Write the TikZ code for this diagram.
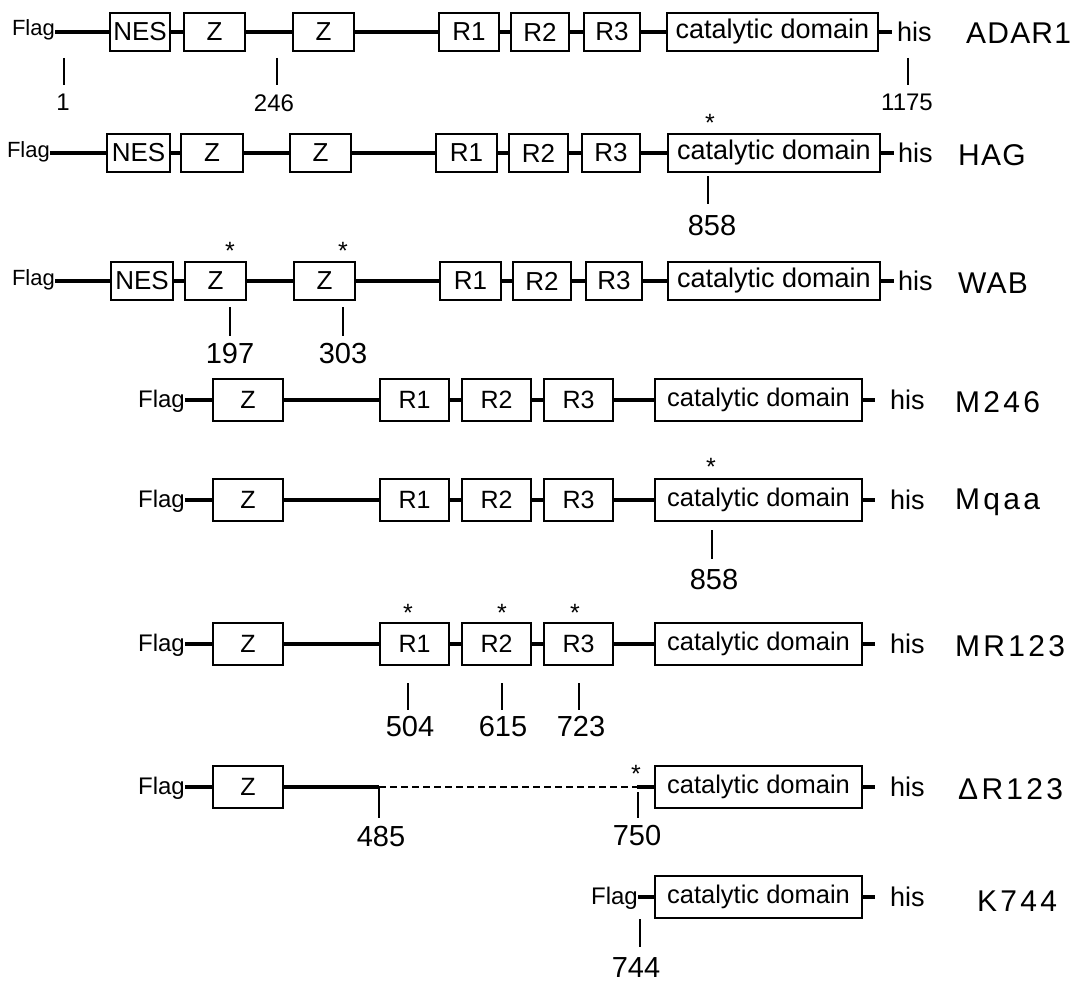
\documentclass[tikz,border=0pt]{standalone}
\usepackage{fontspec}
\setmainfont{Liberation Sans}
\newfontfamily\lblfamilyA[LetterSpace=4]{Liberation Sans}
\newfontfamily\lblfamilyB[LetterSpace=11]{Liberation Sans}
\newcommand\mkdom[6]{\node[#6, minimum width={(#3-#2)*1pt}] (#1) at ({(#2+#3)/2},#4) {#5};}
\tikzset{
 bb/.style={line width=3.1pt},
 tk/.style={line width=1.5pt},
 dsh/.style={line width=1.5pt, dash pattern=on 7pt off 4pt},
 boxA/.style={draw, line width=1.7pt, minimum height=38pt, inner sep=0pt, font=\fontsize{26}{26}\selectfont},
 catA/.style={boxA, font=\fontsize{27}{27}\selectfont},
 boxB/.style={draw, line width=1.7pt, minimum height=42pt, inner sep=0pt, font=\fontsize{25}{25}\selectfont},
 catB/.style={boxB, font=\fontsize{25.5}{25.5}\selectfont},
 flagA/.style={anchor=base east, inner sep=0pt, font=\fontsize{22}{22}\selectfont},
 flagB/.style={anchor=base east, inner sep=0pt, font=\fontsize{24}{24}\selectfont},
 hislbl/.style={anchor=west, inner sep=0pt, font=\fontsize{27}{27}\selectfont},
 rowlblA/.style={anchor=west, inner sep=0pt, font=\lblfamilyA\fontsize{30}{30}\selectfont},
 rowlblB/.style={anchor=west, inner sep=0pt, font=\lblfamilyB\fontsize{30}{30}\selectfont},
 numA/.style={inner sep=0pt, font=\fontsize{24}{24}\selectfont},
 numB/.style={inner sep=0pt, font=\fontsize{29}{29}\selectfont},
 star/.style={anchor=base, inner sep=0pt, font=\fontsize{25}{25}\selectfont},
}
\begin{document}
\begin{tikzpicture}[x=1pt,y=-1pt]
\useasboundingbox (0,0) rectangle (1091,982);
\fill[white] (0,0) rectangle (1091,982);

% ---------- Row 1: ADAR1 ----------
\node[flagA] (f1) at (55,36) {Flag};
\mkdom{n1}{110}{170}{32}{NES}{boxA}
\mkdom{z1a}{184}{245}{32}{Z}{boxA}
\mkdom{z1b}{293}{354}{32}{Z}{boxA}
\mkdom{r1a}{439}{499}{32}{R1}{boxA}
\mkdom{r1b}{511}{569}{32}{R2}{boxA}
\mkdom{r1c}{584}{640}{32}{R3}{boxA}
\mkdom{c1}{667}{878}{32}{catalytic domain}{catA}
\coordinate (s1) at (892,32);
\node[hislbl] (h1) at (897,32) {his};
\node[rowlblA] (L1) at (966,33) {ADAR1};
\draw[bb] (f1.east |- n1.west) -- (n1.west);
\draw[bb] (n1.east) -- (z1a.west);
\draw[bb] (z1a.east) -- (z1b.west);
\draw[bb] (z1b.east) -- (r1a.west);
\draw[bb] (r1a.east) -- (r1b.west);
\draw[bb] (r1b.east) -- (r1c.west);
\draw[bb] (r1c.east) -- (c1.west);
\draw[bb] (c1.east) -- (s1);
\coordinate (t1a) at (64,58); \node[numA] (p1a) at (63,102) {1};
\coordinate (t1b) at (277,58); \node[numA] (p1b) at (274,103) {246};
\coordinate (t1c) at (908,58); \node[numA] (p1c) at (907,102) {1175};
\draw[tk] (t1a) -- (t1a |- 0,85);
\draw[tk] (t1b) -- (t1b |- 0,85);
\draw[tk] (t1c) -- (t1c |- 0,85);

% ---------- Row 2: HAG ----------
\node[flagA] (f2) at (50,157) {Flag};
\mkdom{n2}{107}{170}{153}{NES}{boxA}
\mkdom{z2a}{181}{243}{153}{Z}{boxA}
\mkdom{z2b}{290}{351}{153}{Z}{boxA}
\mkdom{r2a}{436}{497}{153}{R1}{boxA}
\mkdom{r2b}{509}{568}{153}{R2}{boxA}
\mkdom{r2c}{582}{640}{153}{R3}{boxA}
\mkdom{c2}{668}{880}{153}{catalytic domain}{catA}
\coordinate (s2) at (894,153);
\node[hislbl] (h2) at (898,153) {his};
\node[rowlblA] (L2) at (958,155) {HAG};
\draw[bb] (f2.east |- n2.west) -- (n2.west);
\draw[bb] (n2.east) -- (z2a.west);
\draw[bb] (z2a.east) -- (z2b.west);
\draw[bb] (z2b.east) -- (r2a.west);
\draw[bb] (r2a.east) -- (r2b.west);
\draw[bb] (r2b.east) -- (r2c.west);
\draw[bb] (r2c.east) -- (c2.west);
\draw[bb] (c2.east) -- (s2);
\node[star] (a2) at (710,131) {*};
\coordinate (t2) at (708,176); \node[numB] (p2) at (712,226) {858};
\draw[tk] (t2) -- (t2 |- 0,204);

% ---------- Row 3: WAB ----------
\node[flagA] (f3) at (55,285) {Flag};
\mkdom{n3}{111}{173}{281}{NES}{boxA}
\mkdom{z3a}{185}{246}{281}{Z}{boxA}
\mkdom{z3b}{294}{355}{281}{Z}{boxA}
\mkdom{r3a}{440}{501}{281}{R1}{boxA}
\mkdom{r3b}{513}{571}{281}{R2}{boxA}
\mkdom{r3c}{586}{642}{281}{R3}{boxA}
\mkdom{c3}{668}{880}{281}{catalytic domain}{catA}
\coordinate (s3) at (894,281);
\node[hislbl] (h3) at (898,281) {his};
\node[rowlblA] (L3) at (958,283) {WAB};
\draw[bb] (f3.east |- n3.west) -- (n3.west);
\draw[bb] (n3.east) -- (z3a.west);
\draw[bb] (z3a.east) -- (z3b.west);
\draw[bb] (z3b.east) -- (r3a.west);
\draw[bb] (r3a.east) -- (r3b.west);
\draw[bb] (r3b.east) -- (r3c.west);
\draw[bb] (r3c.east) -- (c3.west);
\draw[bb] (c3.east) -- (s3);
\node[star] (a3a) at (230,259) {*};
\node[star] (a3b) at (343,259) {*};
\coordinate (t3a) at (230,307); \node[numB] (p3a) at (230,354) {197};
\coordinate (t3b) at (343,307); \node[numB] (p3b) at (343,354) {303};
\draw[tk] (t3a) -- (t3a |- 0,336);
\draw[tk] (t3b) -- (t3b |- 0,336);

% ---------- Row 4: M246 ----------
\node[flagB] (f4) at (185,407) {Flag};
\mkdom{z4}{213}{283}{400}{Z}{boxB}
\mkdom{r4a}{380}{449}{400}{R1}{boxB}
\mkdom{r4b}{462}{531}{400}{R2}{boxB}
\mkdom{r4c}{544}{613}{400}{R3}{boxB}
\mkdom{c4}{655}{862}{400}{catalytic domain}{catB}
\coordinate (s4) at (875,400);
\node[hislbl] (h4) at (890,400) {his};
\node[rowlblB] (L4) at (955,402) {M246};
\draw[bb] (f4.east |- z4.west) -- (z4.west);
\draw[bb] (z4.east) -- (r4a.west);
\draw[bb] (r4a.east) -- (r4b.west);
\draw[bb] (r4b.east) -- (r4c.west);
\draw[bb] (r4c.east) -- (c4.west);
\draw[bb] (c4.east) -- (s4);

% ---------- Row 5: Mqaa ----------
\node[flagB] (f5) at (185,507) {Flag};
\mkdom{z5}{213}{283}{500}{Z}{boxB}
\mkdom{r5a}{380}{449}{500}{R1}{boxB}
\mkdom{r5b}{462}{531}{500}{R2}{boxB}
\mkdom{r5c}{544}{613}{500}{R3}{boxB}
\mkdom{c5}{655}{862}{500}{catalytic domain}{catB}
\coordinate (s5) at (875,500);
\node[hislbl] (h5) at (890,500) {his};
\node[rowlblB] (L5) at (955,502) {Mqaa};
\draw[bb] (f5.east |- z5.west) -- (z5.west);
\draw[bb] (z5.east) -- (r5a.west);
\draw[bb] (r5a.east) -- (r5b.west);
\draw[bb] (r5b.east) -- (r5c.west);
\draw[bb] (r5c.east) -- (c5.west);
\draw[bb] (c5.east) -- (s5);
\node[star] (a5) at (711,475) {*};
\coordinate (t5) at (712,530); \node[numB] (p5) at (714,580) {858};
\draw[tk] (t5) -- (t5 |- 0,559);

% ---------- Row 6: MR123 ----------
\node[flagB] (f6) at (185,651) {Flag};
\mkdom{z6}{213}{283}{644}{Z}{boxB}
\mkdom{r6a}{380}{449}{644}{R1}{boxB}
\mkdom{r6b}{462}{531}{644}{R2}{boxB}
\mkdom{r6c}{544}{613}{644}{R3}{boxB}
\mkdom{c6}{655}{862}{644}{catalytic domain}{catB}
\coordinate (s6) at (875,644);
\node[hislbl] (h6) at (890,644) {his};
\node[rowlblB] (L6) at (955,646) {MR123};
\draw[bb] (f6.east |- z6.west) -- (z6.west);
\draw[bb] (z6.east) -- (r6a.west);
\draw[bb] (r6a.east) -- (r6b.west);
\draw[bb] (r6b.east) -- (r6c.west);
\draw[bb] (r6c.east) -- (c6.west);
\draw[bb] (c6.east) -- (s6);
\node[star] (a6a) at (408,621) {*};
\node[star] (a6b) at (502,621) {*};
\node[star] (a6c) at (575,621) {*};
\coordinate (t6a) at (408,683); \node[numB] (p6a) at (410,727) {504};
\coordinate (t6b) at (502,683); \node[numB] (p6b) at (503,727) {615};
\coordinate (t6c) at (579,683); \node[numB] (p6c) at (581,727) {723};
\draw[tk] (t6a) -- (t6a |- 0,710);
\draw[tk] (t6b) -- (t6b |- 0,710);
\draw[tk] (t6c) -- (t6c |- 0,710);

% ---------- Row 7: Delta R123 ----------
\node[flagB] (f7) at (185,794) {Flag};
\mkdom{z7}{213}{283}{787}{Z}{boxB}
\mkdom{c7}{655}{862}{787}{catalytic domain}{catB}
\coordinate (d7a) at (379,787);
\coordinate (d7b) at (637,787);
\coordinate (s7) at (875,787);
\node[hislbl] (h7) at (890,787) {his};
\node[rowlblB] (L7) at (958,789) {ΔR123};
\draw[bb] (f7.east |- z7.west) -- (z7.west);
\draw[bb] (z7.east) -- (d7a);
\draw[dsh] (d7a) -- (d7b);
\draw[bb] (d7b) -- (c7.west);
\draw[bb] (c7.east) -- (s7);
\node[star] (a7) at (636,782) {*};
\node[numB] (p7a) at (381,837) {485};
\node[numB] (p7b) at (637,836) {750};
\draw[tk] (d7a) -- (d7a |- 0,818);
\coordinate (t7b) at (638,792);
\draw[tk] (t7b) -- (t7b |- 0,818);

% ---------- Row 8: K744 ----------
\node[flagB] (f8) at (638,904) {Flag};
\mkdom{c8}{655}{862}{897}{catalytic domain}{catB}
\coordinate (s8) at (875,897);
\node[hislbl] (h8) at (890,897) {his};
\node[rowlblB] (L8) at (977,901) {K744};
\draw[bb] (f8.east |- c8.west) -- (c8.west);
\draw[bb] (c8.east) -- (s8);
\coordinate (t8) at (640,919); \node[numB] (p8) at (636,968) {744};
\draw[tk] (t8) -- (t8 |- 0,947);
\end{tikzpicture}
\end{document}
